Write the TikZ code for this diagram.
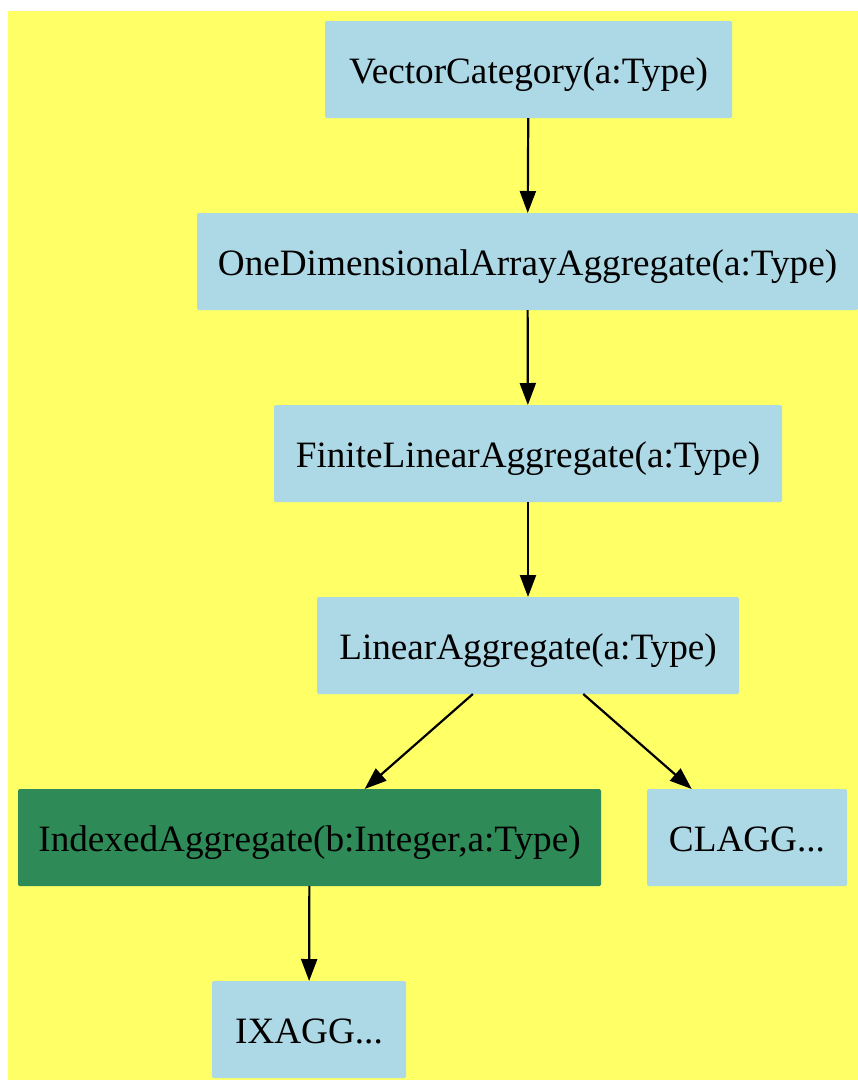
\documentclass[tikz,border=0pt]{standalone}
\usepackage{fontspec}
\setmainfont{Liberation Serif}
\usetikzlibrary{arrows.meta}
\definecolor{bgyellow}{HTML}{FFFF66}
\definecolor{nodeblue}{HTML}{ADD8E6}
\definecolor{nodegreen}{HTML}{2E8B57}
\begin{document}
\begin{tikzpicture}[x=1pt,y=-1pt,
  box/.style={rectangle, fill=nodeblue, inner sep=0pt, outer sep=0pt, minimum height=97pt, text height=27pt, text depth=0pt, rounded corners=1.5pt, font=\fontsize{37.2}{44}\selectfont},
  gbox/.style={box, fill=nodegreen},
  edge/.style={line width=2.2pt, -{Triangle[length=22pt,width=16pt]}}]
\useasboundingbox (0,0) rectangle (858,1080);
\fill[bgyellow] (8,11) rectangle (858,1080);
\node[box, minimum width=407pt] (vc) at (528.5,69.5) {VectorCategory(a:Type)};
\node[box, minimum width=661pt] (od) at (527.5,261.5) {OneDimensionalArrayAggregate(a:Type)};
\node[box, minimum width=508pt] (fl) at (528,453.5) {FiniteLinearAggregate(a:Type)};
\node[box, minimum width=422pt] (la) at (528,645.5) {LinearAggregate(a:Type)};
\node[gbox, minimum width=583pt] (ia) at (309.5,837.5) {IndexedAggregate(b:Integer,a:Type)};
\node[box, minimum width=200pt] (cl) at (747,837.5) {CLAGG...};
\node[box, minimum width=194pt] (ix) at (309,1029.5) {IXAGG...};
\draw[edge] (vc) -- (od);
\draw[edge] (od) -- (fl);
\draw[edge] (fl) -- (la);
\draw[edge] (la) -- (ia);
\draw[edge] (la) -- (cl);
\draw[edge] (ia) -- (ix);
\end{tikzpicture}
\end{document}
